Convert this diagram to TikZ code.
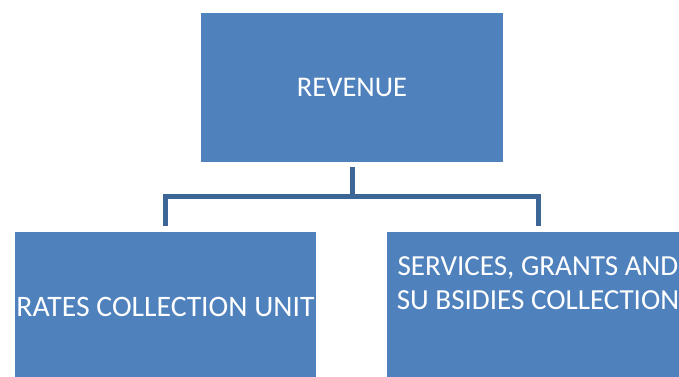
\documentclass[tikz,border=0pt]{standalone}
\usepackage{fontspec}
\setmainfont{Carlito}
\definecolor{unitblue}{HTML}{4F81BD}
\definecolor{linkblue}{HTML}{3C6696}
\usetikzlibrary{positioning}

\begin{document}
\begin{tikzpicture}[
    x=1pt, y=-1pt,
    unit/.style={rectangle, fill=unitblue, inner sep=0pt,
                 minimum width=302pt, minimum height=149pt,
                 font=\fontsize{28.5}{34}\selectfont, text=white},
    link/.style={linkblue, line width=5pt},
  ]
  \useasboundingbox (0,0) rectangle (679,376);
  \clip (0,0) rectangle (679,376);

  \node[unit] (revenue) at (352,87.5) {REVENUE};
  \node[unit, minimum width=301pt, font=\fontsize{29.7}{34}\selectfont]
    (rates) at (165.5,306.5) {RATES COLLECTION UNIT};
  \node[unit, font=\fontsize{29.1}{34}\selectfont] (grants) at (538,306.5)
    {\raisebox{14.2pt}[0pt][0pt]{\begin{tabular}{@{}c@{}}SERVICES, GRANTS AND\\SU BSIDIES COLLECTION\end{tabular}}};

  % fork between the head and the two units
  \coordinate (fork) at (352,196);
  \draw[link] ([yshift=-5pt]revenue.south) -- (fork);
  \draw[link] ([yshift=6pt]rates.north) |- (fork) -| ([yshift=6pt]grants.north);
\end{tikzpicture}
\end{document}
